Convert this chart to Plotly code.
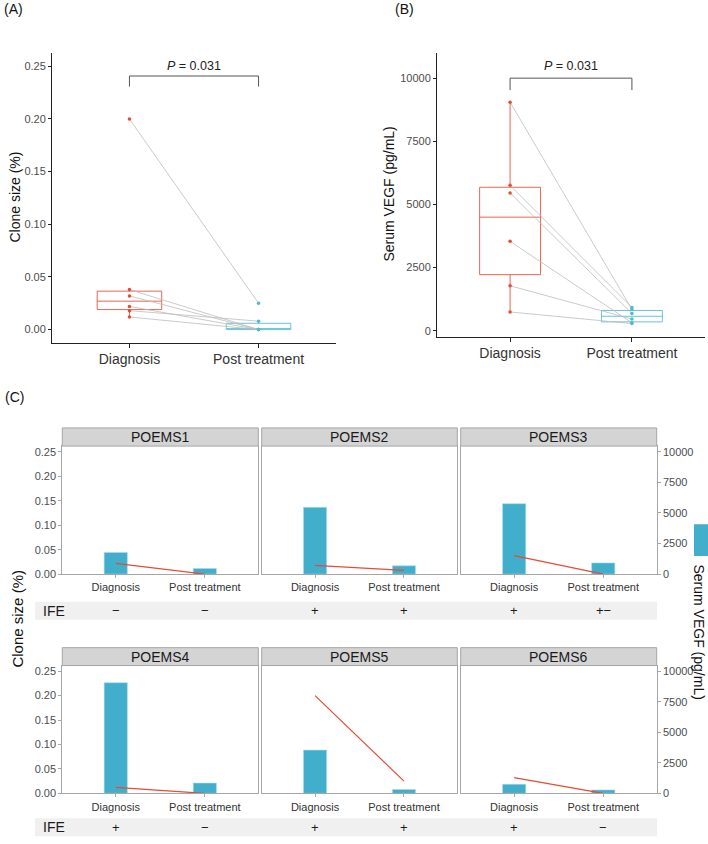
import numpy as np
import plotly.graph_objects as go

# ---------------- data ----------------
patients = ["POEMS1", "POEMS2", "POEMS3", "POEMS4", "POEMS5", "POEMS6"]
timepoints = ["Diagnosis", "Post treatment"]
clone_dx = [0.022, 0.018, 0.038, 0.012, 0.200, 0.032]
clone_post = [0.000, 0.008, 0.000, 0.000, 0.025, 0.000]
vegf_dx = [1780, 5460, 5760, 9060, 3540, 740]
vegf_post = [460, 680, 920, 840, 310, 280]
ife_dx = ["\u2212", "+", "+", "+", "+", "+"]
ife_post = ["\u2212", "+", "+\u2212", "\u2212", "+", "\u2212"]
p_label_a = "0.031"
p_label_b = "0.031"
clone_ticks = [0, 0.05, 0.10, 0.15, 0.20, 0.25]
vegf_ticks = [0, 2500, 5000, 7500, 10000]

# ---------------- style ----------------
W, H = 708, 844
FONT = "Liberation Sans, Arial, sans-serif"
RED = "#E64B35"
BLUE = "#4DBBD5"
BAR = "#41AECB"
GREY_LINE = "#BDBDBD"
PANEL_LINE = "#A6A6A6"
TICK_TXT = "#4D4D4D"


def px(xp):
    return xp / W


def py(yp):
    return 1 - yp / H


def box_stats(vals):
    v = np.array(vals, dtype=float)
    q1, med, q3 = np.percentile(v, [25, 50, 75])
    iqr = q3 - q1
    lo = v[v >= q1 - 1.5 * iqr].min()
    hi = v[v <= q3 + 1.5 * iqr].max()
    return q1, med, q3, lo, hi


fig = go.Figure()


def paired_panel(xa, ya, dx, post):
    for t, (vals, col) in enumerate([(dx, RED), (post, BLUE)]):
        q1, med, q3, lo, hi = box_stats(vals)
        fig.add_trace(go.Box(
            x=[t + 1], q1=[q1], median=[med], q3=[q3],
            lowerfence=[lo], upperfence=[hi], width=0.5,
            fillcolor="rgba(255,255,255,0)", line=dict(color=col, width=1),
            whiskerwidth=0, boxpoints=False, showlegend=False,
            hoverinfo="skip", xaxis=xa, yaxis=ya, opacity=0.85))
    lx, ly = [], []
    for a, b in zip(dx, post):
        lx += [1, 2, None]
        ly += [a, b, None]
    fig.add_trace(go.Scatter(x=lx, y=ly, mode="lines",
                             line=dict(color=GREY_LINE, width=0.8),
                             showlegend=False, hoverinfo="skip",
                             xaxis=xa, yaxis=ya))
    fig.add_trace(go.Scatter(x=[1] * len(dx), y=dx, mode="markers",
                             marker=dict(color=RED, size=3.5),
                             showlegend=False, xaxis=xa, yaxis=ya))
    fig.add_trace(go.Scatter(x=[2] * len(post), y=post, mode="markers",
                             marker=dict(color=BLUE, size=3.5),
                             showlegend=False, xaxis=xa, yaxis=ya))


paired_panel("x", "y", clone_dx, clone_post)
paired_panel("x2", "y2", vegf_dx, vegf_post)

layout = dict(
    width=W, height=H, margin=dict(l=0, r=0, t=0, b=0),
    paper_bgcolor="white", plot_bgcolor="rgba(0,0,0,0)",
    font=dict(family=FONT, color="#1A1A1A"),
    showlegend=False,
)

classic_x = dict(range=[0.4, 2.6], tickvals=[1, 2], ticktext=timepoints,
                 showline=True, linecolor="#222", linewidth=1,
                 ticks="outside", ticklen=4, tickcolor="#222",
                 tickfont=dict(size=14, color="#333", family=FONT),
                 showgrid=False, zeroline=False)
classic_y = dict(showline=True, linecolor="#222", linewidth=1,
                 ticks="outside", ticklen=3, tickcolor="#222",
                 tickfont=dict(size=11, color=TICK_TXT, family=FONT),
                 showgrid=False, zeroline=False)

layout["xaxis"] = dict(classic_x, domain=[px(52), px(336)], anchor="y")
layout["yaxis"] = dict(classic_y, domain=[py(345), py(53)], anchor="x",
                       range=[-0.0123, 0.263], tickvals=clone_ticks,
                       tickformat=".2f")
layout["xaxis2"] = dict(classic_x, domain=[px(437), px(705)], anchor="y2")
layout["yaxis2"] = dict(classic_y, domain=[py(339), py(53)], anchor="x2",
                        range=[-236, 11024], tickvals=vegf_ticks,
                        tickformat="d")

shapes = []
annotations = []

# axis titles for A and B
annotations.append(dict(xref="paper", yref="paper", x=px(15), y=py(199),
                        text="Clone size (%)", showarrow=False, textangle=-90,
                        xanchor="center", yanchor="middle",
                        font=dict(size=14, color="#111")))
annotations.append(dict(xref="paper", yref="paper", x=px(389), y=py(196),
                        text="Serum VEGF (pg/mL)", showarrow=False, textangle=-90,
                        xanchor="center", yanchor="middle",
                        font=dict(size=14, color="#111")))

# significance brackets
for xa, ya, ytop, ybot, ytxt, lab in [
    ("x", "y", 0.2408, 0.2308, 0.2503, p_label_a),
    ("x2", "y2", 10012, 9540, 10512, p_label_b),
]:
    shapes.append(dict(type="path", xref=xa, yref=ya,
                       path=f"M 1 {ybot} L 1 {ytop} L 2 {ytop} L 2 {ybot}",
                       line=dict(color="#555", width=1)))
    annotations.append(dict(xref=xa, yref=ya, x=1.5, y=ytxt,
                            text=f"<i>P</i> = {lab}", showarrow=False,
                            font=dict(size=12.5, color="#222"),
                            xanchor="center", yanchor="middle"))

# panel labels
for txt, x, y in [("(A)", 2, 9), ("(B)", 393, 9), ("(C)", 3, 400)]:
    annotations.append(dict(xref="paper", yref="paper", x=px(x), y=py(y),
                            text=txt, showarrow=False, xanchor="left",
                            yanchor="middle", font=dict(size=14, color="#111")))

# ---------------- panel C ----------------
col_x = [(62.3, 258.3), (261.7, 457.3), (460.7, 656.7)]
row_y = [(449.3, 578.3), (670.3, 799.0)]
strip_y = [(431.0, 449.3), (652.3, 670.3)]
ife_y = [(606.0, 624.3), (824.0, 842.3)]

for i, pid in enumerate(patients):
    r, c = divmod(i, 3)
    xa = f"x{3 + i}"
    yb = f"y{3 + i}"
    yo = f"y{9 + i}"
    fig.add_trace(go.Bar(x=[1, 2], y=[vegf_dx[i], vegf_post[i]], width=0.26,
                         marker=dict(color=BAR, line=dict(color="#A8DCEA", width=0.6)),
                         showlegend=False, xaxis=xa, yaxis=yb))
    fig.add_trace(go.Scatter(x=[1, 2], y=[clone_dx[i], clone_post[i]],
                             mode="lines", line=dict(color=RED, width=1.2),
                             showlegend=False, xaxis=xa, yaxis=yo))
    x0, x1 = col_x[c]
    y0, y1 = row_y[r]
    layout[f"xaxis{3 + i}"] = dict(
        domain=[px(x0), px(x1)], anchor=yb, range=[0.4, 2.6],
        tickvals=[1, 2], ticktext=timepoints,
        showline=True, mirror=True, linecolor=PANEL_LINE, linewidth=1,
        ticks="outside", ticklen=3, tickcolor=PANEL_LINE,
        tickfont=dict(size=11, color="#333", family=FONT),
        showgrid=False, zeroline=False)
    right = (c == 2)
    left = (c == 0)
    layout[f"yaxis{3 + i}"] = dict(
        domain=[py(y1), py(y0)], anchor=xa, side="right",
        range=[0, 10464], tickvals=vegf_ticks, tickformat="d",
        showticklabels=right, ticks="outside" if right else "",
        ticklen=3, tickcolor=PANEL_LINE,
        tickfont=dict(size=11, color=TICK_TXT, family=FONT),
        showline=True, mirror=True, linecolor=PANEL_LINE, linewidth=1,
        showgrid=False, zeroline=False)
    layout[f"yaxis{9 + i}"] = dict(
        overlaying=yb, anchor=xa, side="left",
        range=[0, 0.2616], tickvals=clone_ticks, tickformat=".2f",
        showticklabels=left, ticks="outside" if left else "",
        ticklen=3, tickcolor=PANEL_LINE,
        tickfont=dict(size=11, color=TICK_TXT, family=FONT),
        showline=False, showgrid=False, zeroline=False)
    # strip
    sy0, sy1 = strip_y[r]
    shapes.append(dict(type="rect", xref="paper", yref="paper",
                       x0=px(x0), x1=px(x1), y0=py(sy1), y1=py(sy0),
                       fillcolor="#D4D4D4", line=dict(color=PANEL_LINE, width=1)))
    annotations.append(dict(xref="paper", yref="paper", x=px((x0 + x1) / 2),
                            y=py((sy0 + sy1) / 2), text=pid, showarrow=False,
                            xanchor="center", yanchor="middle",
                            font=dict(size=14, color="#1A1A1A")))
    # IFE symbols
    iy = py(sum(ife_y[r]) / 2)
    for t, sym in enumerate([ife_dx[i], ife_post[i]]):
        annotations.append(dict(xref=xa, yref="paper", x=t + 1, y=iy,
                                text=sym, showarrow=False,
                                xanchor="center", yanchor="middle",
                                font=dict(size=13, color="#1A1A1A")))

# IFE bands
for r in range(2):
    a, b = ife_y[r]
    shapes.append(dict(type="rect", xref="paper", yref="paper", layer="below",
                       x0=px(35), x1=px(657), y0=py(b), y1=py(a),
                       fillcolor="#F0F0F0", line=dict(width=0)))
    annotations.append(dict(xref="paper", yref="paper", x=px(41), y=py((a + b) / 2),
                            text="IFE", showarrow=False, xanchor="left",
                            yanchor="middle", font=dict(size=14, color="#1A1A1A")))

# shared axis titles for C
annotations.append(dict(xref="paper", yref="paper", x=px(18), y=py(623),
                        text="Clone size (%)", showarrow=False, textangle=-90,
                        xanchor="center", yanchor="middle",
                        font=dict(size=15, color="#111")))
# legend (rotated) for C
shapes.append(dict(type="rect", xref="paper", yref="paper",
                   x0=px(694), x1=px(708), y0=py(560), y1=py(528),
                   fillcolor=BAR, line=dict(width=0)))
annotations.append(dict(xref="paper", yref="paper", x=px(699), y=py(636),
                        text="Serum VEGF (pg/mL)", showarrow=False, textangle=90,
                        xanchor="center", yanchor="middle",
                        font=dict(size=14, color="#111")))

layout["shapes"] = shapes
layout["annotations"] = annotations
fig.update_layout(**layout)
fig.write_html(
    "out.html",
    config={"displayModeBar": False},
    post_script=(
        "document.body.style.margin='0px';"
        "document.body.style.padding='0px';"
        "document.body.style.overflow='hidden';"
        "document.documentElement.style.overflow='hidden';"
    ),
)
